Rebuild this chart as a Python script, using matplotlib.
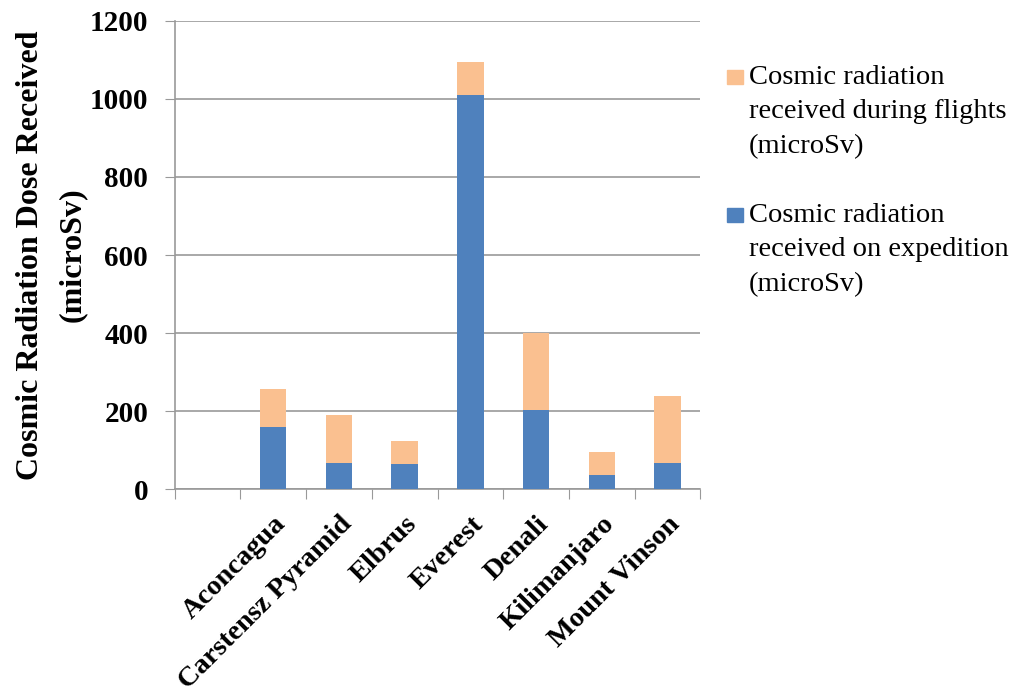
import matplotlib.pyplot as plt
from matplotlib.patches import Rectangle
import numpy as np

plt.rcParams['font.family'] = ['Liberation Serif', 'DejaVu Serif']

# Datos
montanas = ['', 'Aconcagua', 'Carstensz Pyramid', 'Elbrus', 'Everest',
            'Denali', 'Kilimanjaro', 'Mount Vinson']
expedicion = [0, 159, 67, 64, 1010, 204, 36, 67]
vuelos = [0, 99, 124, 59, 85, 196, 59, 173]

azul = '#4F81BD'
naranja = '#FAC090'

fig = plt.figure(figsize=(10.27, 6.95), dpi=100)
ax = fig.add_axes([0.170, 0.296, 0.512, 0.674])

x = np.arange(len(montanas))
ax.bar(x, expedicion, width=0.4, color=azul, zorder=3)
ax.bar(x, vuelos, width=0.4, bottom=expedicion, color=naranja, zorder=3)

ax.set_xlim(-0.5, len(montanas) - 0.5)
ax.set_ylim(0, 1200)
ax.set_yticks(range(0, 1201, 200))
ax.yaxis.grid(True, color='#999999', linewidth=1.2, zorder=0)
ax.set_xticks(np.arange(-0.5, len(montanas), 1.0), minor=False)
ax.set_xticklabels([])
ax.set_xticks(x, minor=True)
ax.set_xticklabels(montanas, minor=True, rotation=45, ha='right',
                   rotation_mode='anchor', fontsize=20.5, fontweight='bold')
ax.tick_params(axis='x', which='minor', length=0, pad=16)
ax.tick_params(axis='x', which='major', length=7, color='#999999', direction='out')
ax.tick_params(axis='y', length=7, color='#999999', labelsize=21, pad=12)
for t in ax.get_yticklabels():
    t.set_fontweight('bold')

for s in ['top', 'right']:
    ax.spines[s].set_visible(False)
for s in ['left', 'bottom']:
    ax.spines[s].set_color('#999999')
    ax.spines[s].set_linewidth(1.2)

ax.set_ylabel('Cosmic Radiation Dose Received\n(microSv)', fontsize=23,
              fontweight='bold', labelpad=2, linespacing=1.6)

# Leyenda manual (naranja arriba, azul abajo)
leyenda = [(naranja, 'Cosmic radiation\nreceived during flights\n(microSv)', 65),
           (azul, 'Cosmic radiation\nreceived on expedition\n(microSv)', 203)]
W, H = 1027, 695
for color, texto, ytop in leyenda:
    fig.patches.append(Rectangle((727 / W, 1 - (ytop + 19) / H), 16 / W, 14 / H,
                                 transform=fig.transFigure, color=color))
    fig.text(749 / W, 1 - ytop / H, texto, fontsize=20.5, va='top', ha='left',
             linespacing=1.5)

plt.savefig('out.png', dpi=100)
